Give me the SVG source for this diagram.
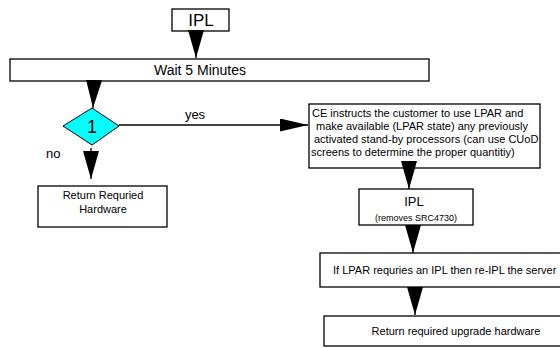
<svg xmlns="http://www.w3.org/2000/svg" width="560" height="348" viewBox="0 0 560 348">
<style>
.box{fill:#fff;stroke:#000;stroke-width:1.3}
.dia{fill:#00ffff;stroke:#000;stroke-width:1}
.t{font-family:"Liberation Sans",Arial,sans-serif;fill:#000}
.c{text-anchor:middle}
.ln{stroke:#000;stroke-width:1.3;fill:none}
</style>
<defs>
<marker id="ah" viewBox="0 0 28 16" refX="28" refY="8" markerWidth="28" markerHeight="16" markerUnits="userSpaceOnUse" orient="auto">
<path d="M0,0 L28,8 L0,16 Z" fill="#000"/>
</marker>
<marker id="ahs" viewBox="0 0 28 13" refX="28" refY="6.5" markerWidth="28" markerHeight="13" markerUnits="userSpaceOnUse" orient="auto">
<path d="M0,0 L28,6.5 L0,13 Z" fill="#000"/>
</marker>
</defs>
<rect width="560" height="348" fill="#fff"/>
<g id="ipl1">
<rect class="box" x="172" y="9" width="57" height="22"/>
<text class="t c" x="201" y="26" font-size="17">IPL</text>
</g>
<g id="wait">
<rect class="box" x="10" y="59" width="419" height="22"/>
<text class="t c" x="200" y="75" font-size="14">Wait 5 Minutes</text>
</g>
<g id="decision">
<polygon class="dia" points="92,108 119,126 92,145 63,126"/>
<text class="t c" x="92" y="133" font-size="18">1</text>
</g>
<g id="returnHw">
<rect class="box" x="38" y="186" width="129" height="41"/>
<text class="t c" x="103" y="199" font-size="11">Return Requried</text>
<text class="t c" x="103" y="213" font-size="11">Hardware</text>
</g>
<g id="ce">
<rect class="box" x="309" y="104" width="231" height="64"/>
<text class="t" x="312" y="117" font-size="11">CE instructs the customer to use LPAR and</text>
<text class="t" x="316" y="130" font-size="11">make available (LPAR state) any previously</text>
<text class="t" x="314" y="143" font-size="11">activated stand-by processors (can use CUoD</text>
<text class="t" x="311" y="156" font-size="11">screens to determine the proper quantitiy)</text>
</g>
<g id="ipl2">
<rect class="box" x="359" y="189" width="114" height="36"/>
<text class="t c" x="414" y="206" font-size="13">IPL</text>
<text class="t c" x="416" y="221" font-size="9">(removes SRC4730)</text>
</g>
<g id="lpar">
<rect class="box" x="320" y="253" width="245" height="34"/>
<text class="t" x="333" y="274" font-size="11">If LPAR requries an IPL then re-IPL the server</text>
</g>
<g id="returnUp">
<rect class="box" x="324" y="316" width="245" height="30"/>
<text class="t c" x="456" y="335" font-size="11">Return required upgrade hardware</text>
</g>
<g id="connectors">
<line class="ln" x1="196" y1="31" x2="196" y2="58" marker-end="url(#ah)"/>
<line class="ln" x1="94" y1="81" x2="93" y2="108" marker-end="url(#ah)"/>
<line class="ln" x1="91" y1="148" x2="91" y2="179" marker-end="url(#ah)"/>
<line class="ln" x1="119" y1="125" x2="308" y2="125" marker-end="url(#ahs)"/>
<line class="ln" x1="409" y1="168" x2="409" y2="189" marker-end="url(#ah)"/>
<line class="ln" x1="413" y1="225" x2="413" y2="253" marker-end="url(#ah)"/>
<line class="ln" x1="415" y1="287" x2="415" y2="315" marker-end="url(#ah)"/>
<text class="t c" x="195" y="119" font-size="13">yes</text>
<text class="t" x="46" y="158" font-size="13">no</text>
</g>
</svg>
